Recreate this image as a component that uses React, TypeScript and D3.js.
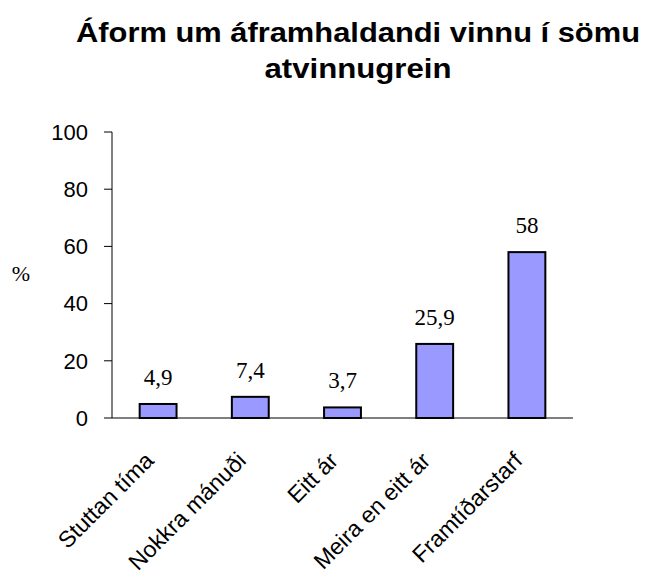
import React from "react";
import * as d3 from "d3";

const categories = ["Stuttan tíma", "Nokkra mánuði", "Eitt ár", "Meira en eitt ár", "Framtíðarstarf"];
const values = [4.9, 7.4, 3.7, 25.9, 58];
const valueLabels = ["4,9", "7,4", "3,7", "25,9", "58"];
const yTicks = [0, 20, 40, 60, 80, 100];
const titleLines = ["Áform um áframhaldandi vinnu í sömu", "atvinnugrein"];
const titleWidths = [564, 187];

export default function App() {
  const W = 650, H = 576;
  const left = 112, right = 573, top = 132, bottom = 418;
  const x = d3.scaleBand<string>().domain(categories).range([left, right]).paddingInner(0.6).paddingOuter(0.3);
  const y = d3.scaleLinear().domain([0, 100]).range([bottom, top]);
  const sans = "Arial, 'Liberation Sans', sans-serif";
  const serif = "'Times New Roman', 'Liberation Serif', serif";
  return (
    <svg width={W} height={H} style={{ position: "absolute", left: 0, top: 0 }}>
      <rect width={W} height={H} fill="#fff" />
      {titleLines.map((t, i) => (
        <text key={i} x={358} y={42 + i * 36} textAnchor="middle" fontFamily={sans} fontWeight="bold" fontSize={28}
          textLength={titleWidths[i]} lengthAdjust="spacingAndGlyphs">{t}</text>
      ))}
      <text x={21} y={281} textAnchor="middle" fontFamily={serif} fontSize={22}>%</text>
      <line x1={left} x2={left} y1={top} y2={bottom} stroke="#000" strokeWidth={1} />
      <line x1={left} x2={right} y1={bottom} y2={bottom} stroke="#000" strokeWidth={1} />
      {yTicks.map((t) => (
        <g key={t}>
          <line x1={left - 8} x2={left} y1={y(t)} y2={y(t)} stroke="#000" />
          <text x={88} y={y(t)} dy="0.35em" textAnchor="end" fontFamily={sans} fontSize={22}>{t}</text>
        </g>
      ))}
      {categories.map((c, i) => {
        const bx = x(c)!;
        const bw = x.bandwidth();
        const cx = bx + bw / 2;
        return (
          <g key={c}>
            <rect x={bx} y={y(values[i])} width={bw} height={bottom - y(values[i])} fill="#9999ff" stroke="#000" strokeWidth={2} />
            <text x={cx} y={y(values[i]) - 19} textAnchor="middle" fontFamily={serif} fontSize={23}>{valueLabels[i]}</text>
            <text transform={`translate(${cx - 3},${462}) rotate(-45)`} textAnchor="end" fontFamily={sans} fontSize={23}>{c}</text>
          </g>
        );
      })}
    </svg>
  );
}
